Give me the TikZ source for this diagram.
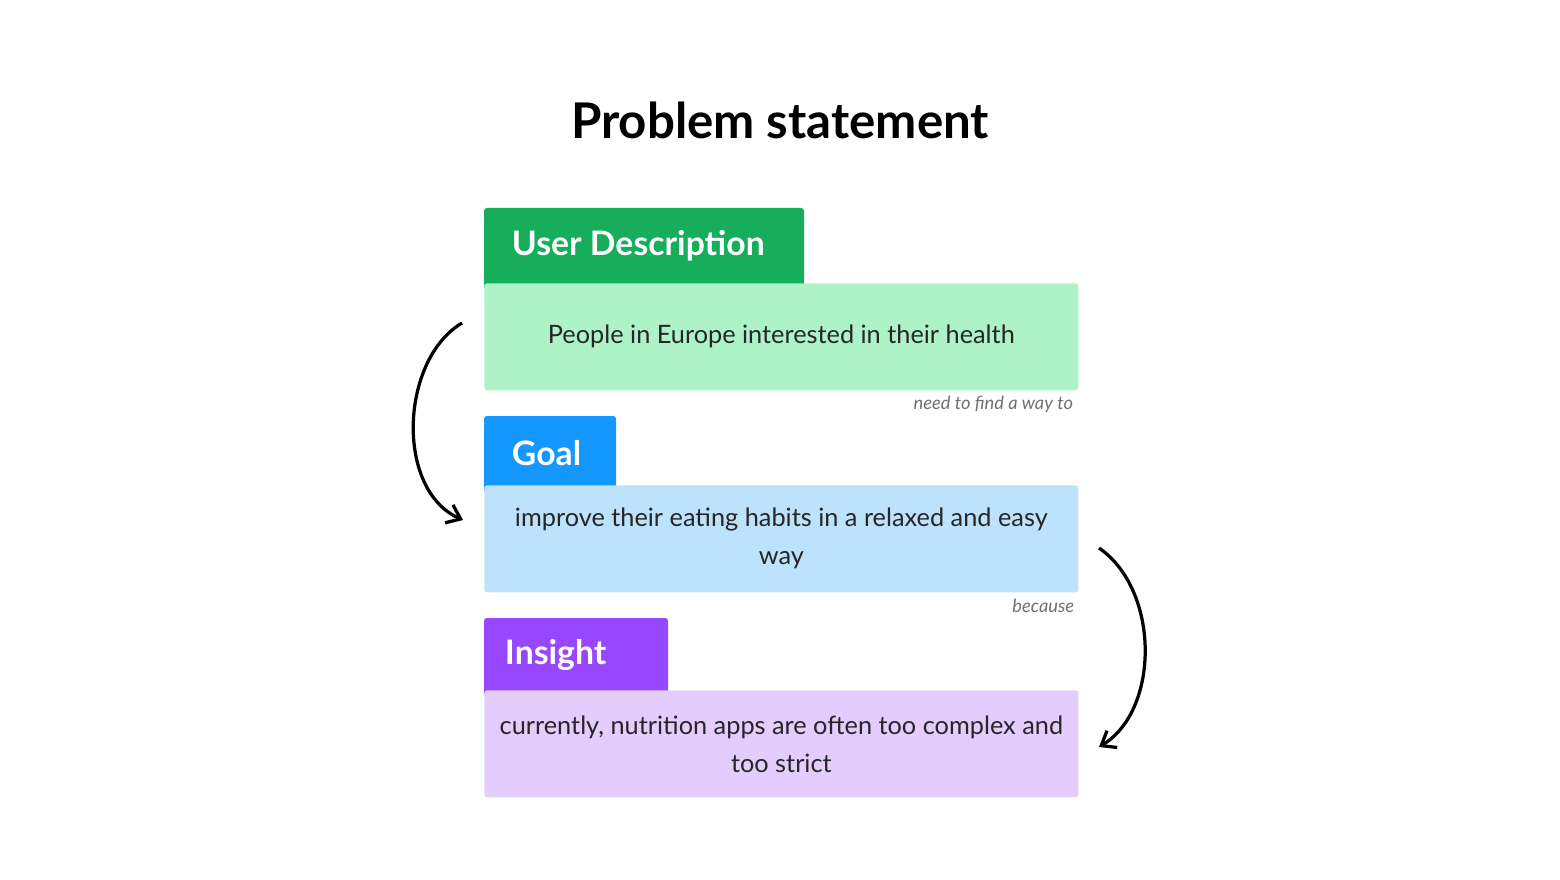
\documentclass[tikz,border=0pt]{standalone}
\usepackage{fontspec}
\setmainfont{Lato}
\usetikzlibrary{positioning,arrows.meta}
\definecolor{hdgreen}{HTML}{16AE5A}
\definecolor{bdgreen}{HTML}{AEF3C8}
\definecolor{hdblue}{HTML}{1498FF}
\definecolor{bdblue}{HTML}{BDE3FC}
\definecolor{hdpurple}{HTML}{9747FF}
\definecolor{bdpurple}{HTML}{E4CCFD}
\definecolor{notegray}{HTML}{707070}
\tikzset{
  headtext/.style={anchor=west, text=white, font=\fontsize{24}{28}\selectfont\bfseries},
  body/.style={anchor=north west, minimum width=14.85cm, minimum height=2.675cm,
    inner sep=0pt, rounded corners=2pt, text=black!85, align=center,
    font=\fontsize{18}{27}\selectfont},
  note/.style={anchor=east, text=notegray, font=\fontsize{13}{15}\selectfont\itshape},
  curvearrow/.style={-{Straight Barb[length=9pt, width=14pt]}, line width=2.3pt}
}
\begin{document}
\begin{tikzpicture}[x=0.025cm, y=-0.025cm]

\useasboundingbox (0,0) rectangle (1560,880);

\node (title) at (780,120) {\fontsize{35}{40}\selectfont\bfseries Problem statement};

% user description
\fill[hdgreen, rounded corners=2pt] (484,208) rectangle (804,290);
\node[headtext] (userhd) at (507,246) {User Description};
\node[body, fill=bdgreen] (userbd) at (484,283) {People in Europe interested in their health};
\node[note] (n1) at (1078,404) {need to find a way to};

% goal
\fill[hdblue, rounded corners=2pt] (484,416) rectangle (616,492);
\node[headtext] (goalhd) at (507,453) {Goal};
\node[body, fill=bdblue] (goalbd) at (484,485) {improve their eating habits in a relaxed and easy\\way};
\node[note] (n2) at (1079,606) {because};

% insight
\fill[hdpurple, rounded corners=2pt] (484,618) rectangle (668,696);
\node[headtext] (insighthd) at (500,655) {Insight};
\node[body, fill=bdpurple] (insightbd) at (484,690) {currently, nutrition apps are often too complex and\\too strict};

\coordinate (a1) at (462,323);
\coordinate (a2) at (463,520);
\coordinate (b1) at (1099,548);
\coordinate (b2) at (1099,747);
\draw[curvearrow] (a1) .. controls (400,360) and (395,490) .. (a2);
\draw[curvearrow] (b1) .. controls (1160,590) and (1160,710) .. (b2);

\end{tikzpicture}
\end{document}
